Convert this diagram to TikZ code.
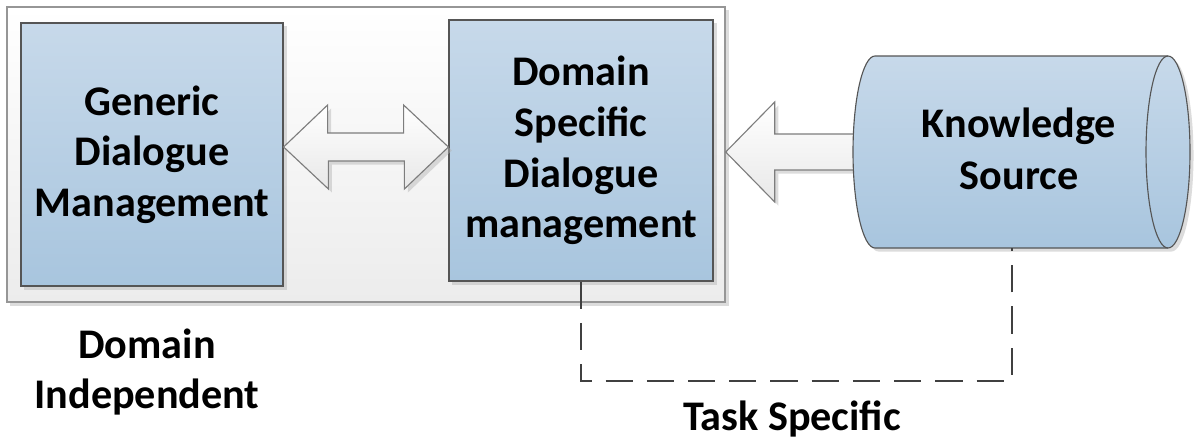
\documentclass[tikz,border=0pt]{standalone}
\usepackage{fontspec}
\setmainfont{Carlito}
\usetikzlibrary{shadows}

\definecolor{boxtop}{RGB}{199,217,234}
\definecolor{boxbot}{RGB}{168,197,222}
\definecolor{boxline}{RGB}{85,85,85}
\definecolor{framebot}{RGB}{236,236,236}
\definecolor{frameline}{RGB}{150,150,150}
\definecolor{arrowbot}{RGB}{232,232,232}
\definecolor{arrowline}{RGB}{125,125,125}
\definecolor{dashcol}{RGB}{64,64,64}
\newcommand\bigtext{\fontsize{30}{36}\selectfont\bfseries}

\begin{document}
\begin{tikzpicture}[x=0.025cm,y=-0.025cm]

		\tikzset{softshadow/.style = {drop shadow={shadow xshift=2.5pt,shadow yshift=-2.5pt,fill=black!30,opacity=0.45}}}
		\tikzset{frame/.style = {shape=rectangle,draw=frameline,line width=0.9pt,top color=white,bottom color=framebot,softshadow}}
		\tikzset{block/.style = {shape=rectangle,draw=boxline,line width=0.8pt,top color=boxtop,bottom color=boxbot,font=\bigtext,align=center,softshadow}}
		\tikzset{drum/.style = {draw=boxline,line width=0.8pt,top color=boxtop,bottom color=boxbot,softshadow}}
		\tikzset{fatarrow/.style = {draw=arrowline,line width=0.8pt,top color=white,bottom color=arrowbot,softshadow}}
		\tikzset{taskline/.style = {draw=dashcol,line width=1.5pt,dash pattern=on 0.68cm off 0.35cm}}
		\tikzset{caption/.style = {font=\bigtext,align=center}}

		\useasboundingbox (0,0) rectangle (1194,441);

		% domain independent frame
		\node[frame,minimum width=17.95cm,minimum height=7.375cm] (dom) at (366,154.5) {};
		% blocks
		\node[block,minimum width=6.55cm,minimum height=6.575cm] (gdm) at (152,154.5) {Generic\\Dialogue\\Management};
		\node[block,minimum width=6.6cm,minimum height=6.525cm] (dsm) at (581,150.5) {Domain\\Specific\\Dialogue\\management};

		% double arrow between the blocks
		\coordinate (mid) at (0,147);
		\draw[fatarrow] (gdm.east |- mid) -- ++(44,-42) -- ++(0,28) -- ++(76,0) -- ++(0,-28)
			-- (dsm.west |- mid) -- ++(-44,42) -- ++(0,-28) -- ++(-76,0) -- ++(0,28) -- cycle;

		% arrow from the knowledge source
		\coordinate (mid2) at (0,152);
		\draw[fatarrow] (dom.east |- mid2) -- ++(49,-50) -- ++(0,32) -- ++(110,0) -- ++(0,36)
			-- ++(-110,0) -- ++(0,32) -- cycle;

		% knowledge source (drum lying on its side)
		\draw[drum] (875,56) -- (1168,56) arc[start angle=-90,end angle=90,x radius=22,y radius=96]
			-- (875,248) arc[start angle=90,end angle=270,x radius=22,y radius=96] -- cycle;
		\draw[boxline,line width=0.8pt] (1168,56) arc[start angle=270,end angle=90,x radius=22,y radius=96];
		\node[caption] (ks) at (1019,149) {Knowledge\\[1pt]Source};
		\coordinate (ksfoot) at (1012,248);

		% task specific link
		\draw[taskline] (dsm.south) -- ++(0,99) -| (ksfoot);

		% captions
		\node[caption] (indep) at (147,372) {Domain\\Independent};
		\node[caption] (task) at (792,419) {Task Specific};
		\end{tikzpicture}
\end{document}
